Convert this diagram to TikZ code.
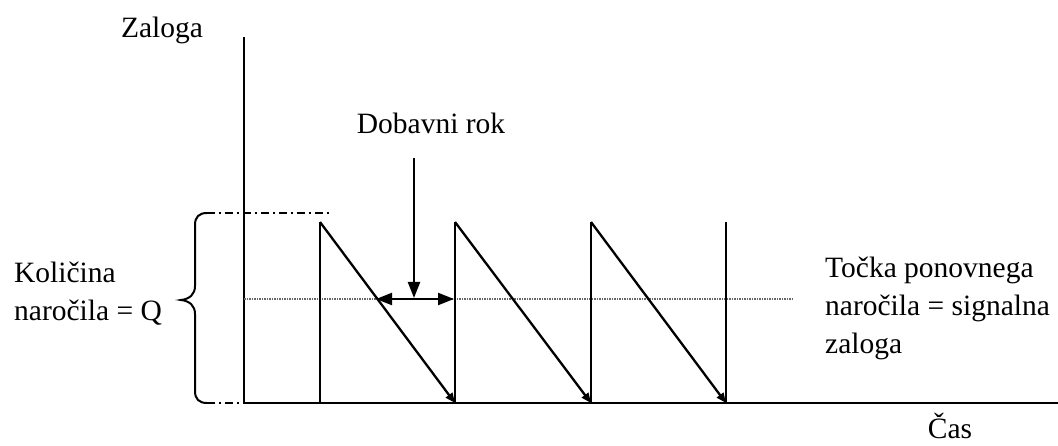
\documentclass[tikz,border=0pt]{standalone}
\usepackage{fontspec}
\setmainfont{Liberation Serif}
\usetikzlibrary{arrows.meta}
\begin{document}
\begin{tikzpicture}[x=1pt,y=-1pt,
  lbl/.style={inner sep=0pt, font=\fontsize{29.5}{38}\selectfont},
  axis/.style={line width=2.6pt},
  saw/.style={line width=2.3pt},
  refline/.style={line width=1.2pt, dash pattern=on 1.5pt off 1pt, black!60},
  dashdot/.style={line width=1.8pt, dash pattern=on 8pt off 4pt on 2pt off 4pt},
  bigtip/.style={-{Triangle[length=16pt,width=12pt]}},
  smalltip/.style={-{Triangle[length=10pt,width=8pt]}}]
\useasboundingbox (0,0) rectangle (1058,446);
% axes
\coordinate (O) at (244,403);
\coordinate (Ytop) at (244,37);
\coordinate (Xend) at (1058,403);
\draw[axis] (Ytop) -- (O) -- (Xend);
% reorder point line
\draw[refline] (244,299) -- (792,299);
% saw teeth
\coordinate (t1) at (320,222); \coordinate (b1) at (320,403);
\coordinate (t2) at (455,222); \coordinate (b2) at (455,403);
\coordinate (t3) at (591,222); \coordinate (b3) at (591,403);
\coordinate (t4) at (726,222); \coordinate (b4) at (726,403);
\draw[saw] (b1) -- (t1);
\draw[saw] (b2) -- (t2);
\draw[saw] (b3) -- (t3);
\draw[saw] (b4) -- (t4);
\draw[saw,smalltip] (t1) -- (b2);
\draw[saw,smalltip] (t2) -- (b3);
\draw[saw,smalltip] (t3) -- (b4);
% dash-dot guides
\draw[dashdot] (207,213) -- (332,213);
\draw[dashdot] (207,403) -- (244,403);
% brace
\draw[line width=2pt] (207,213) .. controls (199,213) and (195,217) .. (195,225)
  -- (195,286) .. controls (195,294) and (190,299) .. (181,300)
  .. controls (190,301) and (195,306) .. (195,314)
  -- (195,391) .. controls (195,399) and (199,403) .. (207,403);
% lead time arrows
\coordinate (dtop) at (414,158);
\coordinate (dbot) at (414,298);
\coordinate (la) at (376,299);
\coordinate (lb) at (454,299);
\draw[line width=2.2pt,bigtip] (dtop) -- (dbot);
\draw[line width=2.2pt,{Triangle[length=16pt,width=12pt]}-{Triangle[length=16pt,width=12pt]}] (la) -- (lb);
% labels
\node[lbl] (zal) at (162,30) {Zaloga};
\node[lbl] (dob) at (431,123) {Dobavni rok};
\node[lbl,anchor=west,align=left] (kol) at (14,294) {Količina\\naročila = Q};
\node[lbl,anchor=west,align=left] (toc) at (825,308) {Točka ponovnega\\naročila = signalna\\zaloga};
\node[lbl] (cas) at (950,426) {Čas};
\end{tikzpicture}
\end{document}
